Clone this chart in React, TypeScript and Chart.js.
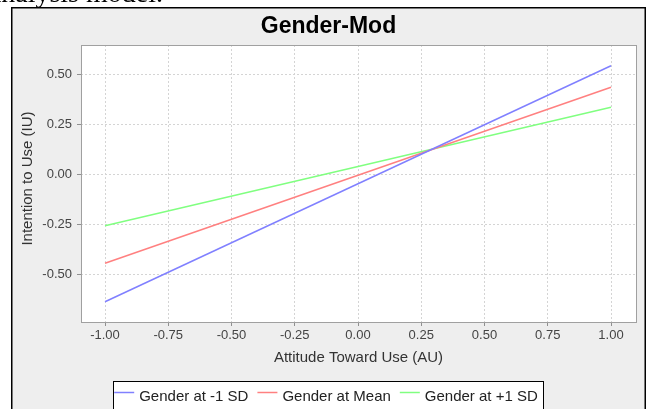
import React, { useEffect, useRef } from "react";
import { Chart, registerables } from "chart.js";

Chart.register(...registerables);

const xValues = [-1, 1];
const genderLow = [-0.635, 0.545];
const genderMean = [-0.443, 0.437];
const genderHigh = [-0.255, 0.337];
const seriesLabels = ["Gender at -1 SD", "Gender at Mean", "Gender at +1 SD"];
const seriesColors = ["#8080ff", "#ff8080", "#80ff80"];
const xTicks = [-1, -0.75, -0.5, -0.25, 0, 0.25, 0.5, 0.75, 1];
const xTickLabels = ["-1.00", "-0.75", "-0.50", "-0.25", "0.00", "0.25", "0.50", "0.75", "1.00"];
const yTicks = [-0.5, -0.25, 0, 0.25, 0.5];
const yTickLabels = ["-0.50", "-0.25", "0.00", "0.25", "0.50"];
const chartTitle = "Gender-Mod";
const xTitle = "Attitude Toward Use (AU)";
const yTitle = "Intention to Use (IU)";

const FONT = "'Liberation Sans', Arial, sans-serif";

const framePlugin = {
  id: "frame",
  beforeDraw(chart: any) {
    const { ctx, chartArea: a } = chart;
    ctx.save();
    ctx.fillStyle = "#eeeeee";
    ctx.fillRect(11, 7, 635, 420);
    ctx.lineWidth = 1.5;
    ctx.strokeStyle = "#000";
    ctx.strokeRect(11.75, 7.75, 633.5, 420);
    ctx.fillStyle = "#ffffff";
    ctx.fillRect(a.left, a.top, a.right - a.left, a.bottom - a.top);
    ctx.restore();
  },
  afterDraw(chart: any) {
    const { ctx, chartArea: a } = chart;
    ctx.save();
    // plot outline
    ctx.strokeStyle = "#a0a0a0";
    ctx.lineWidth = 1;
    ctx.strokeRect(a.left + 0.5, a.top + 0.5, a.right - a.left, a.bottom - a.top);
    // title
    ctx.fillStyle = "#000";
    ctx.font = `bold 23px ${FONT}`;
    ctx.textAlign = "center";
    ctx.textBaseline = "alphabetic";
    ctx.fillText(chartTitle, 328.5, 32.5);
    // y axis title
    ctx.save();
    ctx.translate(27.5, 178.5);
    ctx.rotate(-Math.PI / 2);
    ctx.font = `15px ${FONT}`;
    ctx.fillStyle = "#333";
    ctx.textAlign = "center";
    ctx.textBaseline = "middle";
    ctx.fillText(yTitle, 0, 0);
    ctx.restore();
    // legend
    ctx.font = `15px ${FONT}`;
    const lineLen = 20, gap = 5, itemGap = 9;
    const ds = chart.data.datasets;
    const widths = ds.map((d: any) => ctx.measureText(d.label).width);
    let total = 0;
    widths.forEach((w: number, i: number) => {
      total += lineLen + gap + w + (i < widths.length - 1 ? itemGap : 0);
    });
    let x = 326 - total / 2;
    const boxL = Math.round(x - 1) + 0.5;
    const boxR = Math.round(x + total + 5) + 0.5;
    ctx.fillStyle = "#ffffff";
    ctx.fillRect(boxL, 381.5, boxR - boxL, 40);
    ctx.strokeStyle = "#000";
    ctx.lineWidth = 1;
    ctx.strokeRect(boxL, 381.5, boxR - boxL, 40);
    ctx.textAlign = "left";
    ctx.textBaseline = "alphabetic";
    ds.forEach((d: any, i: number) => {
      ctx.strokeStyle = d.borderColor;
      ctx.lineWidth = 1.5;
      ctx.beginPath();
      ctx.moveTo(x, 392.5);
      ctx.lineTo(x + lineLen, 392.5);
      ctx.stroke();
      ctx.fillStyle = "#222";
      ctx.fillText(d.label, x + lineLen + gap, 401);
      x += lineLen + gap + widths[i] + itemGap;
    });
    ctx.restore();
  },
};

function makePoints(ys: number[]) {
  return xValues.map((x, i) => ({ x, y: ys[i] }));
}

export default function App() {
  const ref = useRef<HTMLCanvasElement>(null);
  useEffect(() => {
    const series = [genderLow, genderMean, genderHigh];
    const chart = new Chart(ref.current!, {
      type: "line",
      data: {
        datasets: series.map((s, i) => ({
          label: seriesLabels[i],
          data: makePoints(s),
          borderColor: seriesColors[i],
          backgroundColor: seriesColors[i],
          borderWidth: 1.5,
          pointRadius: 0,
          tension: 0,
          fill: false,
        })),
      },
      options: {
        animation: false,
        responsive: false,
        maintainAspectRatio: false,
        layout: { padding: { left: 13, right: 11, top: 45, bottom: 42 } },
        plugins: {
          legend: { display: false },
          title: { display: false },
          tooltip: { enabled: false },
        },
        scales: {
          x: {
            type: "linear",
            min: -1.0949,
            max: 1.0988,
            afterBuildTicks: (scale: any) => {
              scale.ticks = xTicks.map((v) => ({ value: v }));
            },
            afterFit: (scale: any) => {
              scale.height = 45;
            },
            ticks: {
              autoSkip: false,
              maxRotation: 0,
              padding: 2,
              color: "#444",
              font: { family: FONT, size: 13 },
              callback: (v: any) => xTickLabels[xTicks.indexOf(Number(v))] ?? "",
            },
            grid: {
              color: "#d4d4d4",
              lineWidth: 1,
              tickLength: 4,
              tickColor: "#909090",
              borderDash: [2, 2],
            } as any,
            border: { display: false, dash: [2, 2] },
            title: {
              display: true,
              text: xTitle,
              color: "#333",
              font: { family: FONT, size: 15 },
              padding: { top: 0, bottom: 0 },
            },
          },
          y: {
            type: "linear",
            min: -0.7365,
            max: 0.6485,
            afterBuildTicks: (scale: any) => {
              scale.ticks = yTicks.map((v) => ({ value: v }));
            },
            afterFit: (scale: any) => {
              scale.width = 68;
            },
            ticks: {
              autoSkip: false,
              padding: 5,
              color: "#444",
              font: { family: FONT, size: 13 },
              callback: (v: any) => yTickLabels[yTicks.indexOf(Number(v))] ?? "",
            },
            grid: {
              color: "#d4d4d4",
              lineWidth: 1,
              tickLength: 4,
              tickColor: "#909090",
              borderDash: [2, 2],
            } as any,
            border: { display: false, dash: [2, 2] },
            title: { display: false },
          },
        },
      },
      plugins: [framePlugin],
    } as any);
    return () => chart.destroy();
  }, []);

  return (
    <div
      style={{
        position: "fixed",
        left: 0,
        top: 0,
        width: 647,
        height: 409,
        overflow: "hidden",
        background: "#fff",
      }}
    >
      <canvas
        ref={ref}
        width={647}
        height={409}
        style={{ position: "absolute", left: 0, top: 0, width: 647, height: 409 }}
      />
      <div
        style={{
          position: "absolute",
          right: 647 - 163,
          top: -21,
          font: "28px 'Liberation Serif', serif",
          lineHeight: "28px",
          whiteSpace: "nowrap",
          color: "#000",
        }}
      >
        analysis model.
      </div>
    </div>
  );
}
